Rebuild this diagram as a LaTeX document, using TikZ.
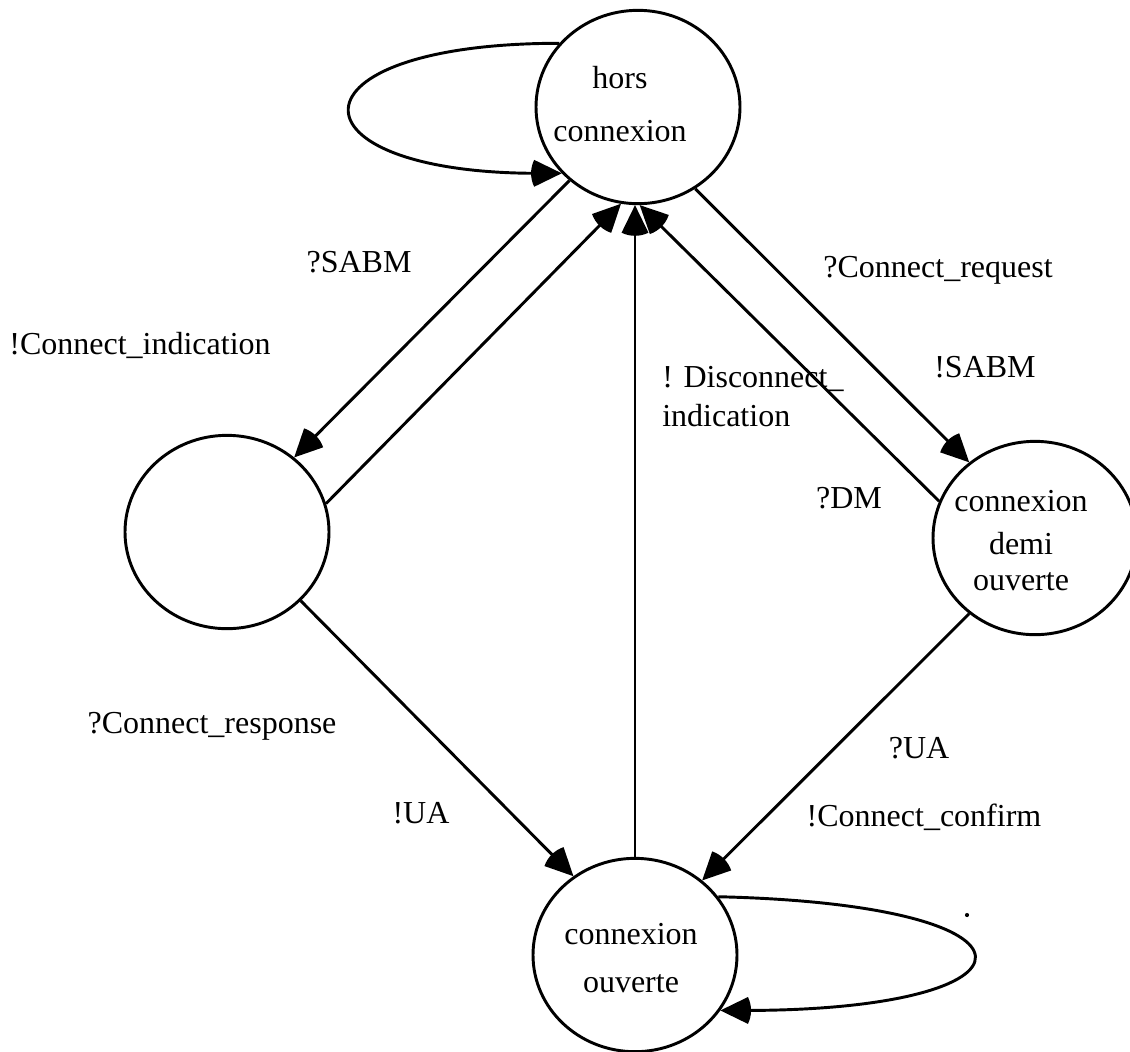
\documentclass[tikz,border=0pt]{standalone}
\usepackage{fontspec}
\setmainfont{Liberation Serif}
\usetikzlibrary{arrows.meta,shapes.geometric,calc}

% filled fan-shaped arrow head with a rounded back, 23pt long
\pgfdeclarearrow{
  name = Fan,
  setup code = {
    \pgfarrowssettipend{0pt}
    \pgfarrowssetlineend{-18pt}
    \pgfarrowssetbackend{-23pt}
  },
  drawing code = {
    \pgfpathmoveto{\pgfpointorigin}
    \pgfpathlineto{\pgfpointpolar{154}{23pt}}
    \pgfpatharc{154}{206}{23pt}
    \pgfpathclose
    \pgfusepathqfill
  }
}

\tikzset{
  state/.style={ellipse, draw, line width=2.2pt, inner sep=0pt,
    minimum width=153pt, minimum height=145pt},
  statetext/.style={align=center, inner sep=0pt},
  lbl/.style={inner sep=0pt, font=\fontsize{24}{30}\selectfont},
  edge/.style={line width=2.2pt, -{Fan}},
}

\begin{document}
\begin{tikzpicture}[x=0.75pt, y=-0.75pt]
  \useasboundingbox (0,0) rectangle (1130,1051);

  % states
  \node[state] (A) at (638,107) {};
  \node[state] (B) at (227,532) {};
  \node[state] (C) at (1035,538) {};
  \node[state] (D) at (635,955) {};

  % state names
  \node[statetext, font=\fontsize{24}{39.75}\selectfont] (Atxt) at (620,104) {hors\\connexion};
  \node[statetext, font=\fontsize{24}{27}\selectfont] (Ctxt) at (1021,541) {connexion\\[5.25pt]demi\\ouverte};
  \node[statetext, font=\fontsize{24}{36}\selectfont] (Dtxt) at (631,958) {connexion\\ouverte};

  % transitions
  \draw[edge] (A.227.4) -- (B.48.5);
  \draw[edge] (B.16.8) -- (A.260.3);
  \draw[edge] (A.305.2) -- (C.131.4);
  \draw[edge] (C.159.8) -- (A.271);
  \draw[edge] (B.317.7) -- (D.128.9);
  \draw[edge] (C.229.1) -- (D.48.3);
  \draw[edge] (D.north) -- (D.north |- A.south);

  % self loops
  \draw[edge] (A.141) .. controls ($(A.141)+(-279,0)$) and ($(A.221)+(-279,0)$) .. (A.221);
  \draw[edge] (D.35.5) .. controls ($(D.35.5)+(345,8)$) and ($(D.327.8)+(330,0)$) .. (D.327.8);
  \node[circle, fill, inner sep=1.1pt] (tick) at (967,915) {};

  % transition labels
  \node[lbl] (l1) at (359,262) {?SABM};
  \node[lbl] (l2) at (140,345) {!Connect\_indication};
  \node[lbl] (l3) at (938,270) {?Connect\_request};
  \node[lbl] (l4) at (985,367) {!SABM};
  \node[lbl, align=left, anchor=west, font=\fontsize{24}{29.25}\selectfont] (l5) at (662,397) {! Disconnect\_\\indication};
  \node[lbl] (l6) at (849,498) {?DM};
  \node[lbl] (l7) at (212,726) {?Connect\_response};
  \node[lbl] (l8) at (421,813) {!UA};
  \node[lbl] (l9) at (919,748) {?UA};
  \node[lbl] (l10) at (924,817) {!Connect\_confirm};
\end{tikzpicture}
\end{document}
